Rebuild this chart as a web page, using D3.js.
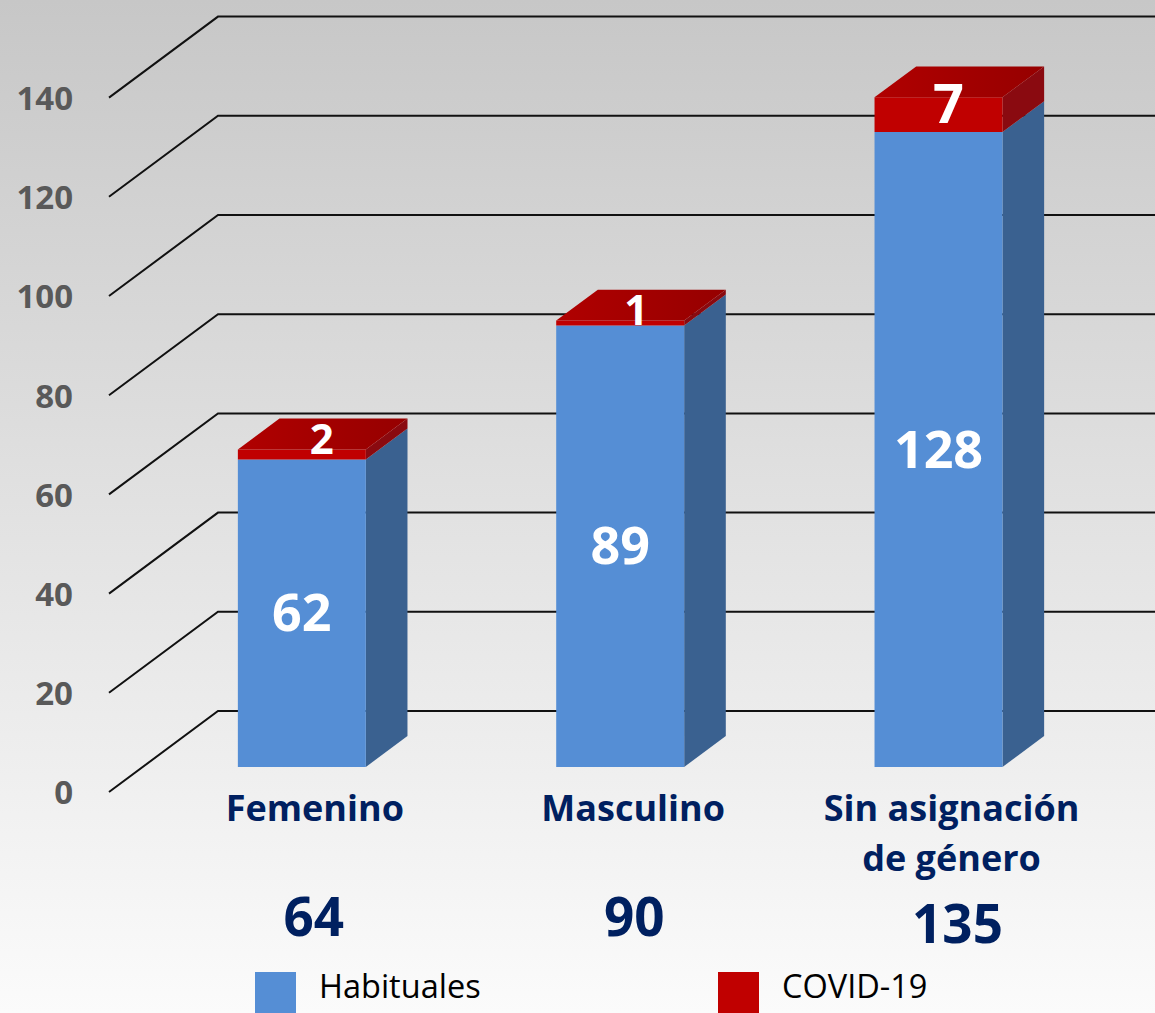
<!DOCTYPE html>
<html>
<head>
<meta charset="utf-8">
<script src="https://cdn.jsdelivr.net/npm/d3@7"></script>
<style>
  body { margin: 0; background: #fff; }
  svg { display: block; font-family: "Open Sans", "Noto Sans", sans-serif; }
</style>
</head>
<body>
<svg id="chart" width="1155" height="1013"></svg>
<script>
const categories = ["Femenino", "Masculino", "Sin asignación\nde género"];
const habituales = [62, 89, 128];
const covid = [2, 1, 7];
const totals = [64, 90, 135];
const yTicks = [0, 20, 40, 60, 80, 100, 120, 140];
const seriesNames = ["Habituales", "COVID-19"];

const width = 1155;
const height = 1013;

// oblique depth of the floor, front -> back
const depthX = 109;
const depthY = 81;
const barFront = 0.691; // depth fraction measured from the back wall
const barBack = 0.309;
const barRatio = 0.402;

const colors = {
  blueFront: "#558ed5",
  blueSide: "#3a6190",
  redFront: "#c00000",
  redSide: "#8a0a10",
  navy: "#002060",
  tick: "#595959",
};

const svg = d3.select("#chart");

const defs = svg.append("defs");
const bg = defs
  .append("linearGradient")
  .attr("id", "bg")
  .attr("x1", 0).attr("y1", 0).attr("x2", 0).attr("y2", 1);
bg.append("stop").attr("offset", "0%").attr("stop-color", "#c7c7c7");
bg.append("stop").attr("offset", "55%").attr("stop-color", "#e4e4e4");
bg.append("stop").attr("offset", "100%").attr("stop-color", "#fbfbfb");

const topGrad = defs
  .append("linearGradient")
  .attr("id", "redTop")
  .attr("x1", 0).attr("y1", 0).attr("x2", 1).attr("y2", 0);
topGrad.append("stop").attr("offset", "0%").attr("stop-color", "#b00000");
topGrad.append("stop").attr("offset", "100%").attr("stop-color", "#960000");

svg.append("rect").attr("width", width).attr("height", height).attr("fill", "url(#bg)");

// scales on the back wall plane
const xScale = d3.scaleBand().domain(categories).range([218, 1173]);
const yScale = d3.scaleLinear().domain([0, 140]).range([711, 16.6]);
const yFront = yScale.copy().range(yScale.range().map((v) => v + depthY));

const proj = (xb, v, d) => [xb - depthX * d, yScale(v) + depthY * d];

// gridlines: diagonal on the left wall, horizontal on the back wall
svg
  .append("g")
  .selectAll("path")
  .data(yTicks)
  .join("path")
  .attr("d", (t) => {
    const a = proj(218, t, 1);
    const b = proj(218, t, 0);
    return `M${a[0]},${a[1]}L${b[0]},${b[1]}L${width},${b[1]}`;
  })
  .attr("fill", "none")
  .attr("stroke", "#111")
  .attr("stroke-width", 2);

// y axis labels at the front edge
const yAxis = svg
  .append("g")
  .attr("transform", "translate(73,0)")
  .call(d3.axisLeft(yFront).tickValues(yTicks).tickSize(0).tickPadding(0));
yAxis.select(".domain").remove();
yAxis
  .selectAll("text")
  .attr("font-family", "'Open Sans', sans-serif")
  .attr("font-size", 33)
  .attr("font-weight", 700)
  .attr("fill", colors.tick)
  .attr("dy", "0.36em");

const bars = categories.map((c, i) => ({
  cat: c,
  hab: habituales[i],
  cov: covid[i],
  total: totals[i],
  xc: xScale(c) + xScale.bandwidth() / 2,
}));
const half = (xScale.bandwidth() * barRatio) / 2;

const poly = (pts) => "M" + pts.map((p) => p.join(",")).join("L") + "Z";

function faces(d, v0, v1) {
  const xl = d.xc - half;
  const xr = d.xc + half;
  return {
    front: poly([proj(xl, v1, barFront), proj(xr, v1, barFront), proj(xr, v0, barFront), proj(xl, v0, barFront)]),
    side: poly([proj(xr, v0, barFront), proj(xr, v0, barBack), proj(xr, v1, barBack), proj(xr, v1, barFront)]),
    top: poly([proj(xl, v1, barFront), proj(xl, v1, barBack), proj(xr, v1, barBack), proj(xr, v1, barFront)]),
  };
}

const barG = svg.append("g").selectAll("g").data(bars).join("g");

barG.append("path").attr("d", (d) => faces(d, 0, d.hab).side).attr("fill", colors.blueSide);
barG.append("path").attr("d", (d) => faces(d, 0, d.hab).front).attr("fill", colors.blueFront);
barG.append("path").attr("d", (d) => faces(d, d.hab, d.hab + d.cov).side).attr("fill", colors.redSide);
barG.append("path").attr("d", (d) => faces(d, d.hab, d.hab + d.cov).front).attr("fill", colors.redFront);
barG.append("path").attr("d", (d) => faces(d, d.hab, d.hab + d.cov).top).attr("fill", "url(#redTop)");

// value labels inside blue segments
barG
  .append("text")
  .attr("x", (d) => proj(d.xc, 0, barFront)[0])
  .attr("y", (d) => proj(d.xc, d.hab / 2, barFront)[1] + 18)
  .attr("text-anchor", "middle")
  .attr("font-size", 52)
  .attr("font-weight", 700)
  .attr("fill", "#fff")
  .text((d) => d.hab);

// covid labels on top
const big = (d) => d.cov > 4;
barG
  .append("text")
  .attr("x", (d, i) => proj(d.xc, 0, barFront)[0] + [20, 16, 10][i])
  .attr("y", (d) => proj(d.xc, d.hab + d.cov, barFront)[1] + (big(d) ? 26 : 4))
  .attr("text-anchor", "middle")
  .attr("font-size", (d) => (big(d) ? 54 : 42))
  .attr("font-weight", 700)
  .attr("fill", "#fff")
  .text((d) => d.cov);

// category labels
const catText = barG
  .append("text")
  .attr("text-anchor", "middle")
  .attr("font-size", 36)
  .attr("font-weight", 700)
  .attr("fill", colors.navy);
catText
  .selectAll("tspan")
  .data((d) => d.cat.split("\n").map((line) => ({ line, x: proj(d.xc, 0, barFront)[0] + 13 })))
  .join("tspan")
  .attr("x", (l) => l.x)
  .attr("y", (l, j) => 821 + j * 50)
  .text((l) => l.line);

// totals
barG
  .append("text")
  .attr("x", (d, i) => proj(d.xc, 0, barFront)[0] + [12, 14, 19][i])
  .attr("y", (d, i) => (i === 2 ? 943 : 936))
  .attr("text-anchor", "middle")
  .attr("font-size", 53)
  .attr("font-weight", 700)
  .attr("fill", colors.navy)
  .text((d) => d.total);

// legend
const legendX = d3.scalePoint().domain(seriesNames).range([255, 718]);
const legendColor = d3.scaleOrdinal().domain(seriesNames).range([colors.blueFront, colors.redFront]);
const legend = svg.append("g").selectAll("g").data(seriesNames).join("g")
  .attr("transform", (d) => `translate(${legendX(d)},972)`);
legend.append("rect").attr("width", 41).attr("height", 41).attr("fill", (d) => legendColor(d));
legend
  .append("text")
  .attr("x", 64)
  .attr("y", 26)
  .attr("font-size", 32.5)
  .attr("fill", "#000")
  .text((d) => d);
</script>
</body>
</html>
